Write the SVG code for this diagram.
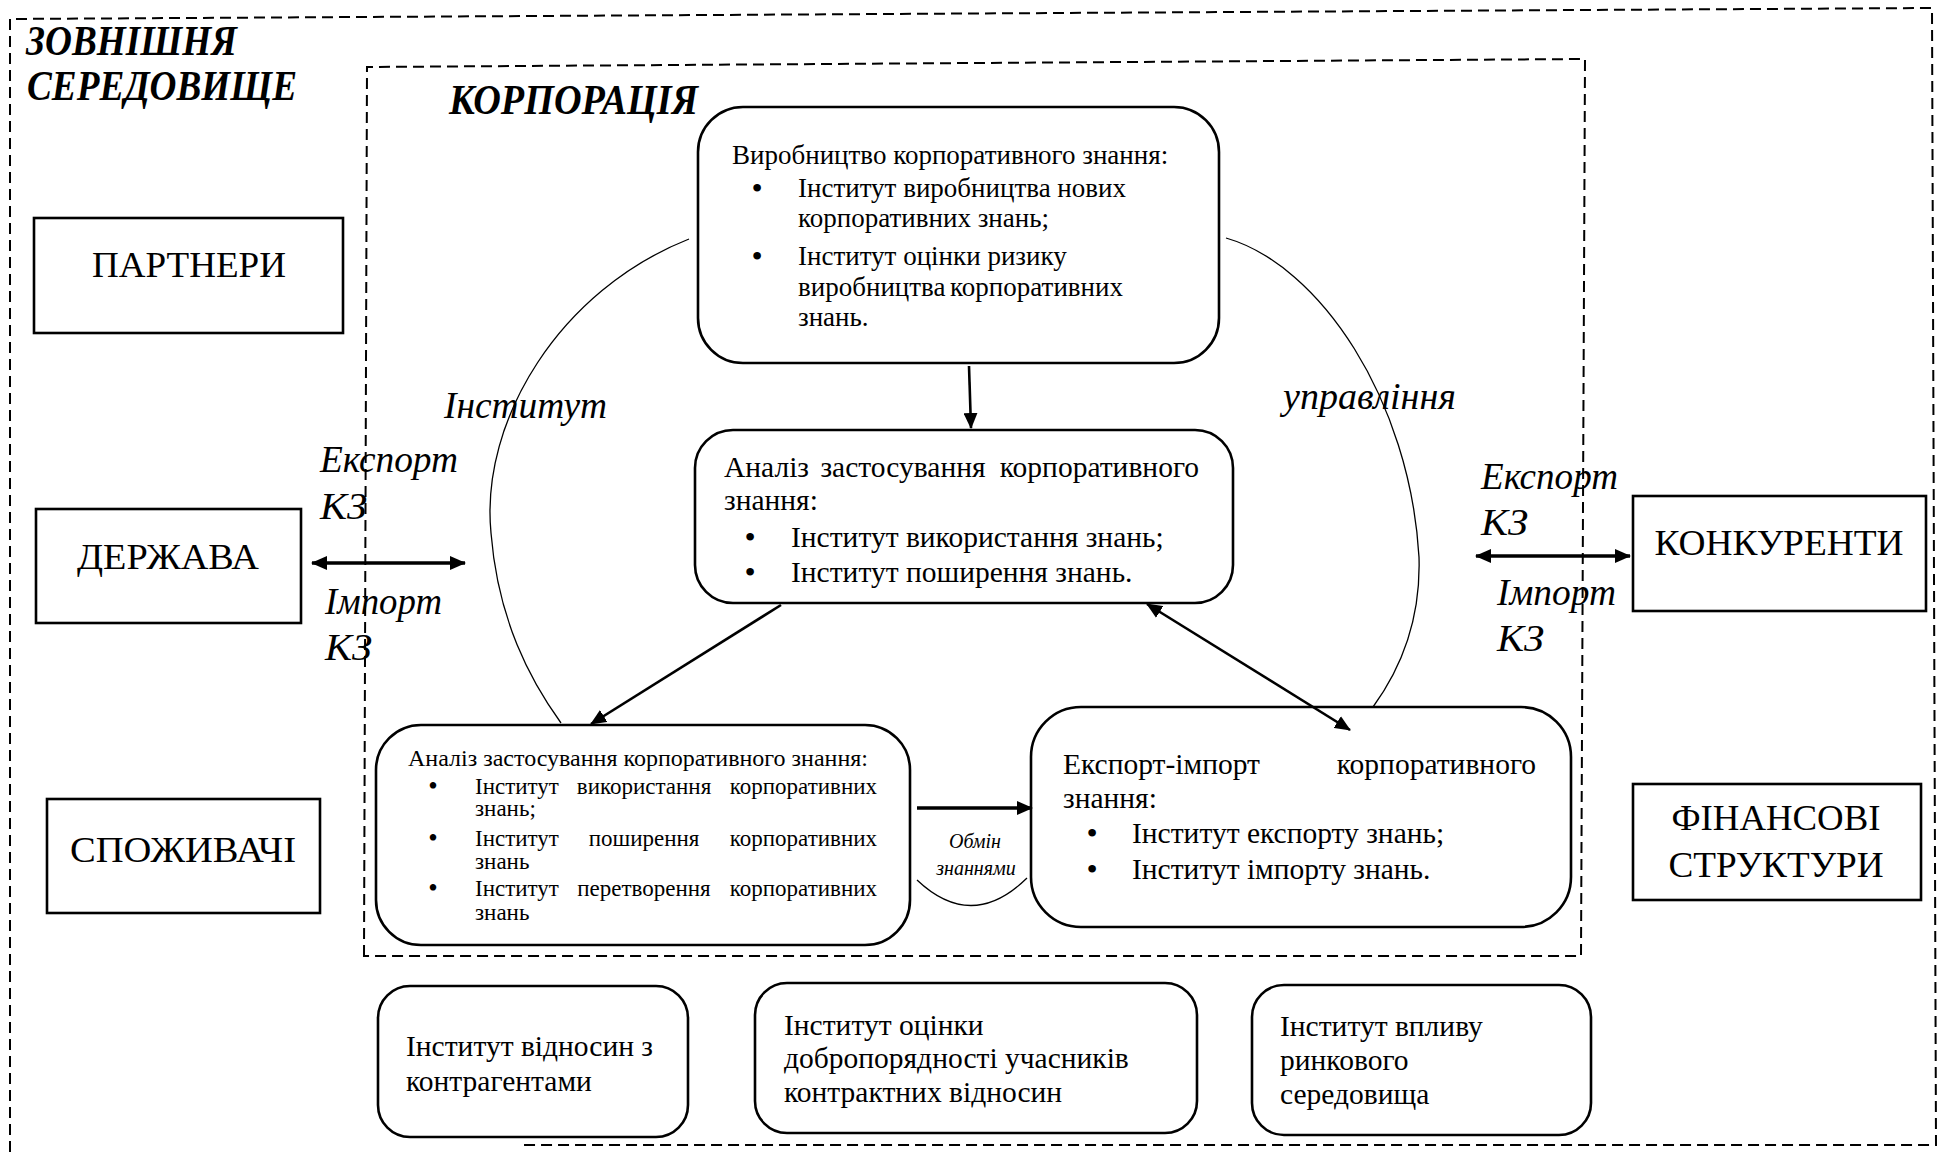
<svg xmlns="http://www.w3.org/2000/svg" width="1943" height="1152" viewBox="0 0 1943 1152">
<style>
text { font-family: "Liberation Serif", "Times New Roman", serif; fill: #000; }
.bg { fill: #fff; }
.box { fill: #fff; stroke: #000; stroke-width: 2.6; }
.dash { fill: none; stroke: #000; stroke-width: 2; stroke-dasharray: 11 6; }
.hdr { font-size: 42px; font-weight: bold; font-style: italic; }
.lbl { font-size: 36px; }
.it { font-size: 38px; font-style: italic; }
.t27 { font-size: 27px; }
.t29 { font-size: 29.5px; }
.t23 { font-size: 23px; }
.b { font-size: 32px; text-anchor: middle; }
.bs { font-size: 27px; text-anchor: middle; }
.sm { font-size: 20px; font-style: italic; }
.mid { text-anchor: middle; }
.end { text-anchor: end; }
.arc { fill: none; stroke: #000; stroke-width: 1.3; }
.conn { fill: none; stroke: #000; stroke-width: 2.6; }
.thick { fill: none; stroke: #000; stroke-width: 3.5; }
</style>
<defs>
<marker id="arr" viewBox="0 0 16 14" refX="15" refY="7" markerWidth="16" markerHeight="14" markerUnits="userSpaceOnUse" orient="auto-start-reverse"><path d="M0,0 L16,7 L0,14 Z" fill="#000"/></marker>
<marker id="arrL" viewBox="0 0 16 14" refX="15" refY="7" markerWidth="16" markerHeight="14" markerUnits="userSpaceOnUse" orient="auto-start-reverse"><path d="M0,0 L16,7 L0,14 Z" fill="#000"/></marker>
</defs>
<rect class="bg" x="0" y="0" width="1943" height="1152"/>

<g id="frame-environment">
<path class="dash" d="M10,1152 L10,19 L1932,8 L1936,1145 L522,1145"/>
<text class="hdr" x="26" y="55" textLength="211" lengthAdjust="spacingAndGlyphs">ЗОВНІШНЯ</text>
<text class="hdr" x="27" y="100" textLength="270" lengthAdjust="spacingAndGlyphs">СЕРЕДОВИЩЕ</text>
</g>
<g id="frame-corporation">
<path class="dash" d="M364,956 L367,67 L1585,59 L1581,956 Z"/>
<text class="hdr" x="449" y="114" textLength="249" lengthAdjust="spacingAndGlyphs">КОРПОРАЦІЯ</text>
</g>

<g id="n-partners">
<rect class="box" x="34" y="218" width="309" height="115"/>
<text class="lbl mid" x="189" y="277" textLength="194" lengthAdjust="spacingAndGlyphs">ПАРТНЕРИ</text>
</g>
<g id="n-state">
<rect class="box" x="36" y="509" width="265" height="114"/>
<text class="lbl mid" x="168" y="569" textLength="182" lengthAdjust="spacingAndGlyphs">ДЕРЖАВА</text>
</g>
<g id="n-consumers">
<rect class="box" x="47" y="799" width="273" height="114"/>
<text class="lbl mid" x="183" y="862" textLength="226" lengthAdjust="spacingAndGlyphs">СПОЖИВАЧІ</text>
</g>
<g id="n-competitors">
<rect class="box" x="1633" y="496" width="293" height="115"/>
<text class="lbl mid" x="1779" y="555" textLength="249" lengthAdjust="spacingAndGlyphs">КОНКУРЕНТИ</text>
</g>
<g id="n-finance">
<rect class="box" x="1633" y="784" width="288" height="116"/>
<text class="lbl mid" x="1776" y="830" textLength="209" lengthAdjust="spacingAndGlyphs">ФІНАНСОВІ</text>
<text class="lbl mid" x="1776" y="877" textLength="215" lengthAdjust="spacingAndGlyphs">СТРУКТУРИ</text>
</g>

<g id="n-production">
<rect class="box" x="698" y="107" width="521" height="256" rx="45"/>
<text class="t27" x="732" y="164">Виробництво корпоративного знання:</text>
<text class="b" x="757" y="199">•</text>
<text class="t27" x="798" y="197">Інститут виробництва нових</text>
<text class="t27" x="798" y="227">корпоративних знань;</text>
<text class="b" x="757" y="267">•</text>
<text class="t27" x="798" y="265">Інститут оцінки ризику</text>
<text class="t27" x="798" y="296">виробництва</text>
<text class="t27 end" x="1123" y="296">корпоративних</text>
<text class="t27" x="798" y="326">знань.</text>
</g>

<g id="n-analysis">
<rect class="box" x="695" y="430" width="538" height="173" rx="38"/>
<text class="t29" x="724" y="477">Аналіз</text>
<text class="t29 mid" x="903" y="477">застосування</text>
<text class="t29 end" x="1199" y="477">корпоративного</text>
<text class="t29" x="724" y="510">знання:</text>
<text class="b" x="750" y="548">•</text>
<text class="t29" x="791" y="547">Інститут використання знань;</text>
<text class="b" x="750" y="583">•</text>
<text class="t29" x="791" y="582">Інститут поширення знань.</text>
</g>

<g id="n-apply">
<rect class="box" x="376" y="725" width="534" height="220" rx="45"/>
<text class="t23" x="408" y="766" textLength="460" lengthAdjust="spacingAndGlyphs">Аналіз застосування корпоративного знання:</text>
<text class="bs" x="433" y="795">•</text>
<text class="t23" x="475" y="794">Інститут</text>
<text class="t23 mid" x="644" y="794">використання</text>
<text class="t23 end" x="877" y="794">корпоративних</text>
<text class="t23" x="475" y="816">знань;</text>
<text class="bs" x="433" y="847">•</text>
<text class="t23" x="475" y="846">Інститут</text>
<text class="t23 mid" x="644" y="846">поширення</text>
<text class="t23 end" x="877" y="846">корпоративних</text>
<text class="t23" x="475" y="869">знань</text>
<text class="bs" x="433" y="897">•</text>
<text class="t23" x="475" y="896">Інститут</text>
<text class="t23 mid" x="644" y="896">перетворення</text>
<text class="t23 end" x="877" y="896">корпоративних</text>
<text class="t23" x="475" y="920">знань</text>
</g>

<g id="n-exchange">
<rect class="box" x="1031" y="707" width="540" height="220" rx="50"/>
<text class="t29" x="1063" y="774">Експорт-імпорт</text>
<text class="t29 end" x="1536" y="774">корпоративного</text>
<text class="t29" x="1063" y="808">знання:</text>
<text class="b" x="1092" y="844">•</text>
<text class="t29" x="1132" y="843">Інститут експорту знань;</text>
<text class="b" x="1092" y="880">•</text>
<text class="t29" x="1132" y="879">Інститут імпорту знань.</text>
</g>

<g id="n-contractors">
<rect class="box" x="378" y="986" width="310" height="151" rx="32"/>
<text class="t29" x="406" y="1056">Інститут відносин з</text>
<text class="t29" x="406" y="1091">контрагентами</text>
</g>
<g id="n-integrity">
<rect class="box" x="755" y="983" width="442" height="150" rx="32"/>
<text class="t29" x="784" y="1035">Інститут оцінки</text>
<text class="t29" x="784" y="1068">добропорядності учасників</text>
<text class="t29" x="784" y="1102">контрактних відносин</text>
</g>
<g id="n-market">
<rect class="box" x="1252" y="985" width="339" height="150" rx="32"/>
<text class="t29" x="1280" y="1036">Інститут впливу</text>
<text class="t29" x="1280" y="1070">ринкового</text>
<text class="t29" x="1280" y="1104">середовища</text>
</g>

<g id="connectors">
<path class="arc" d="M689,239 C560,290 480,420 491,533 C498,620 530,680 561,723"/>
<path class="arc" d="M1226,238 C1320,265 1410,400 1419,557 C1421,620 1400,670 1373,707"/>
<path class="arc" d="M917,880 Q972,932 1027,878"/>
<line class="conn" x1="969" y1="366" x2="971" y2="428" marker-end="url(#arr)"/>
<line class="conn" x1="781" y1="605" x2="591" y2="724" marker-end="url(#arr)"/>
<line class="conn" x1="1147" y1="604" x2="1350" y2="730" marker-start="url(#arr)" marker-end="url(#arr)"/>
<line class="thick" x1="917" y1="808" x2="1032" y2="808" marker-end="url(#arr)"/>
<line class="thick" x1="312" y1="563" x2="465" y2="563" marker-start="url(#arrL)" marker-end="url(#arrL)"/>
<line class="thick" x1="1476" y1="556" x2="1630" y2="556" marker-start="url(#arrL)" marker-end="url(#arrL)"/>
<text class="it" x="444" y="418" textLength="163" lengthAdjust="spacingAndGlyphs">Інститут</text>
<text class="it" x="1283" y="409" textLength="173" lengthAdjust="spacingAndGlyphs">управління</text>
<text class="it" x="320" y="472" textLength="138" lengthAdjust="spacingAndGlyphs">Експорт</text>
<text class="it" x="320" y="519" textLength="47" lengthAdjust="spacingAndGlyphs">КЗ</text>
<text class="it" x="325" y="614" textLength="117" lengthAdjust="spacingAndGlyphs">Імпорт</text>
<text class="it" x="325" y="660" textLength="47" lengthAdjust="spacingAndGlyphs">КЗ</text>
<text class="it" x="1481" y="489" textLength="137" lengthAdjust="spacingAndGlyphs">Експорт</text>
<text class="it" x="1481" y="535" textLength="47" lengthAdjust="spacingAndGlyphs">КЗ</text>
<text class="it" x="1497" y="605" textLength="119" lengthAdjust="spacingAndGlyphs">Імпорт</text>
<text class="it" x="1497" y="651" textLength="47" lengthAdjust="spacingAndGlyphs">КЗ</text>
<text class="sm mid" x="975" y="848">Обмін</text>
<text class="sm mid" x="976" y="875">знаннями</text>
</g>
</svg>
